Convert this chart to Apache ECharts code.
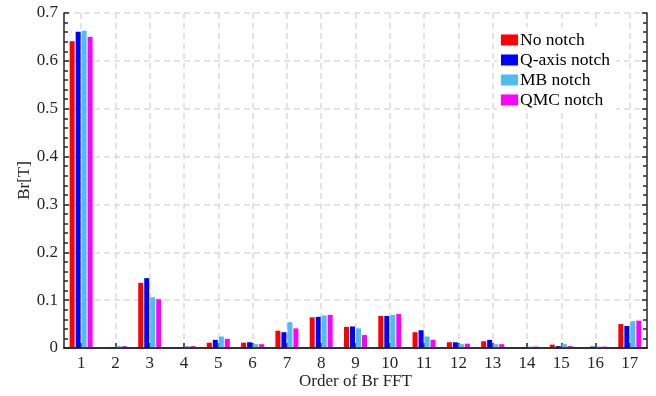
<!DOCTYPE html>
<html>
<head>
<meta charset="utf-8">
<script src="https://cdn.jsdelivr.net/npm/echarts@6/dist/echarts.min.js"></script>
<style>
  html, body { margin: 0; padding: 0; background: #fff; }
  #chart { width: 656px; height: 396px; }
</style>
</head>
<body>
<div id="chart"></div>
<script>
const orders = ['1', '2', '3', '4', '5', '6', '7', '8', '9', '10', '11', '12', '13', '14', '15', '16', '17'];
const noNotch = [0.641, 0.002, 0.136, 0.001, 0.011, 0.011, 0.036, 0.064, 0.044, 0.067, 0.033, 0.012, 0.014, 0.001, 0.007, 0.001, 0.050];
const qAxisNotch = [0.661, 0.002, 0.146, 0.001, 0.017, 0.012, 0.033, 0.065, 0.045, 0.067, 0.037, 0.012, 0.017, 0.001, 0.004, 0.003, 0.046];
const mbNotch = [0.663, 0.004, 0.106, 0.004, 0.024, 0.008, 0.054, 0.068, 0.041, 0.069, 0.024, 0.008, 0.008, 0.003, 0.008, 0.003, 0.056];
const qmcNotch = [0.650, 0.004, 0.102, 0.004, 0.019, 0.008, 0.041, 0.069, 0.027, 0.071, 0.017, 0.009, 0.008, 0.003, 0.004, 0.003, 0.057];
const yTicks = [0, 0.1, 0.2, 0.3, 0.4, 0.5, 0.6, 0.7];

const font = 'Liberation Serif';
const fs = 17;
const axisColor = '#262626';
const dash = { color: '#dcdcdc', width: 1.5, type: [6, 4] };
const tickStyle = { color: axisColor, width: 1.5 };

const myChart = echarts.init(document.getElementById('chart'));

const mkBar = (name, data, color) => ({
    name,
    type: 'bar',
    data,
    barWidth: 5,
    barGap: '20%',
    itemStyle: { color },
});

const option = {
    animation: false,
    textStyle: { fontFamily: font },
    grid: { left: 64, right: 9, top: 13, bottom: 48, outerBoundsMode: 'none', containLabel: false },
    legend: {
        orient: 'vertical',
        left: 497,
        top: 27,
        itemWidth: 17,
        itemHeight: 11,
        itemGap: 2,
        padding: [4, 6, 4, 4],
        backgroundColor: '#fff',
        icon: 'rect',
        textStyle: { fontFamily: font, fontSize: 17.5, color: '#000', padding: [0, 0, 0, -3] },
        data: ['No notch', 'Q-axis notch', 'MB notch', 'QMC notch'],
    },
    xAxis: [
        {
            type: 'category',
            data: orders,
            name: 'Order of Br FFT',
            nameLocation: 'middle',
            nameMoveOverlap: false,
            nameGap: 25,
            nameTextStyle: { fontFamily: font, fontSize: fs, color: '#262626' },
            axisLine: { lineStyle: tickStyle },
            axisTick: { inside: true, alignWithLabel: true, length: 5, lineStyle: tickStyle },
            axisLabel: { fontFamily: font, fontSize: fs, color: '#262626', margin: 7 },
            splitLine: { show: false },
            z: 5,
        },
        {
            // top frame: its minor ticks / minor split lines fall on the group centres
            type: 'value',
            min: 0,
            max: orders.length,
            interval: 1,
            position: 'top',
            axisLine: { show: true, lineStyle: tickStyle },
            axisTick: { show: false },
            axisLabel: { show: false },
            splitLine: { show: false },
            minorTick: { show: true, splitNumber: 2, length: 5, lineStyle: tickStyle },
            minorSplitLine: { show: true, lineStyle: dash },
        },
    ],
    yAxis: [
        {
            type: 'value',
            min: yTicks[0],
            max: yTicks[yTicks.length - 1],
            interval: 0.1,
            name: 'Br[T]',
            nameLocation: 'middle',
            nameMoveOverlap: false,
            nameGap: 31,
            nameTextStyle: { fontFamily: font, fontSize: fs, color: '#262626' },
            axisLine: { show: true, lineStyle: tickStyle },
            axisTick: { show: true, inside: true, length: 5, lineStyle: tickStyle },
            minorTick: { show: true, splitNumber: 5, length: 4, lineStyle: tickStyle },
            axisLabel: { fontFamily: font, fontSize: fs, color: '#262626', margin: 6, formatter: (v) => String(+v.toFixed(1)) },
            splitLine: { show: true, lineStyle: dash },
        },
        {
            type: 'value',
            min: yTicks[0],
            max: yTicks[yTicks.length - 1],
            interval: 0.1,
            position: 'right',
            axisLine: { show: true, lineStyle: tickStyle },
            axisTick: { show: true, inside: true, length: 5, lineStyle: tickStyle },
            minorTick: { show: true, splitNumber: 5, length: 4, lineStyle: tickStyle },
            axisLabel: { show: false },
            splitLine: { show: false },
        },
    ],
    series: [
        mkBar('No notch', noNotch, '#ff0000'),
        mkBar('Q-axis notch', qAxisNotch, '#0000ff'),
        mkBar('MB notch', mbNotch, '#4dbeee'),
        mkBar('QMC notch', qmcNotch, '#ff00ff'),
    ],
};

myChart.setOption(option);
</script>
</body>
</html>
